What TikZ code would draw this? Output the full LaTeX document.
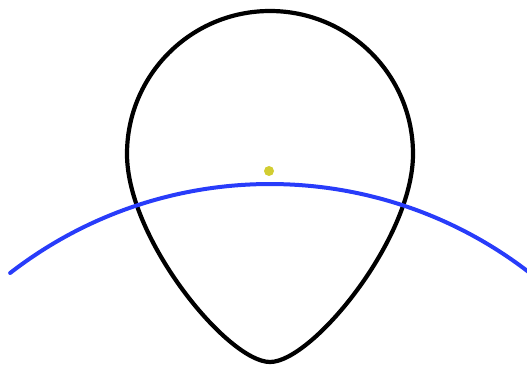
\documentclass[tikz,border=0pt]{standalone}
\definecolor{arcblue}{RGB}{40,60,250}
\definecolor{dotyellow}{RGB}{210,205,50}
\tikzset{
  dropline/.style={draw=black,line width=4.2pt},
  bluearc/.style={draw=arcblue,line width=4pt,line cap=round},
}
\begin{document}
\begin{tikzpicture}[x=1pt,y=-1pt]
\useasboundingbox (0,0) rectangle (527,371);
% teardrop
\draw[dropline] (127,154) arc[start angle=180,end angle=360,radius=143]
  .. controls (413,239) and (312,362) .. (270,362)
  .. controls (228,362) and (127,239) .. cycle;
% blue arc
\draw[bluearc] (270,608) ++(-127.8:424) arc[start angle=-127.8,end angle=-50,radius=424];
% yellow dot
\fill[dotyellow] (269,171) circle[radius=5];
\end{tikzpicture}
\end{document}
